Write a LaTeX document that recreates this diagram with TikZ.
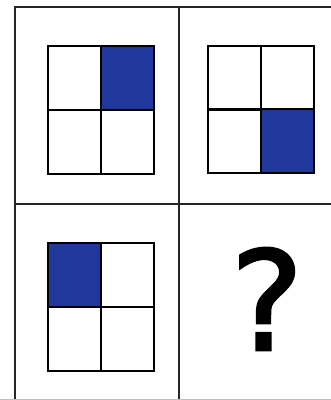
\documentclass[tikz,border=0pt]{standalone}
\usepackage{fontspec}
\newfontfamily\qfont[FakeBold=1.8]{DejaVu Sans}
\usetikzlibrary{positioning}
\definecolor{cellblue}{RGB}{32,56,155}

\begin{document}
\begin{tikzpicture}[
  x=1pt, y=-1pt,
  frame/.style={line width=2.4pt, black!85},
  cell/.style={rectangle, draw, line width=2.4pt, minimum width=53pt, minimum height=64pt, inner sep=0pt, anchor=north west},
  filled/.style={cell, fill=cellblue},
  qmark/.style={font=\qfont\fontsize{138}{145}\selectfont, inner sep=0pt}
]
\useasboundingbox (0,0) rectangle (331,400);
% outer frame and dividers
\coordinate (tl) at (15,7);
\coordinate (tr) at (331,7);
\coordinate (bl) at (15,400);
\coordinate (mt) at (179,7);
\coordinate (mb) at (179,400);
\coordinate (ml) at (15,204);
\coordinate (mr) at (331,204);
\draw[frame] (tr) -- (tl) -- (bl);
\draw[frame] (mt) -- (mb);
\draw[frame] (ml) -- (mr);
\draw[black!25, line width=1pt] (0,399.5) -- (331,399.5);

% top left: upper right filled
\node[cell]   (a11) at (47,45) {};
\node[filled] (a12) at (100,45) {};
\node[cell]   (a21) at (47,109) {};
\node[cell]   (a22) at (100,109) {};

% top right: lower right filled
\node[cell]   (b11) at (207,45) {};
\node[cell]   (b12) at (260,45) {};
\node[cell]   (b21) at (207,108) {};
\node[filled] (b22) at (260,108) {};

% bottom left: upper left filled
\node[filled] (c11) at (47,242) {};
\node[cell]   (c12) at (100,242) {};
\node[cell]   (c21) at (47,306) {};
\node[cell]   (c22) at (100,306) {};

% the missing one
\node[qmark] (q) at (267,299) {?};
\end{tikzpicture}
\end{document}
